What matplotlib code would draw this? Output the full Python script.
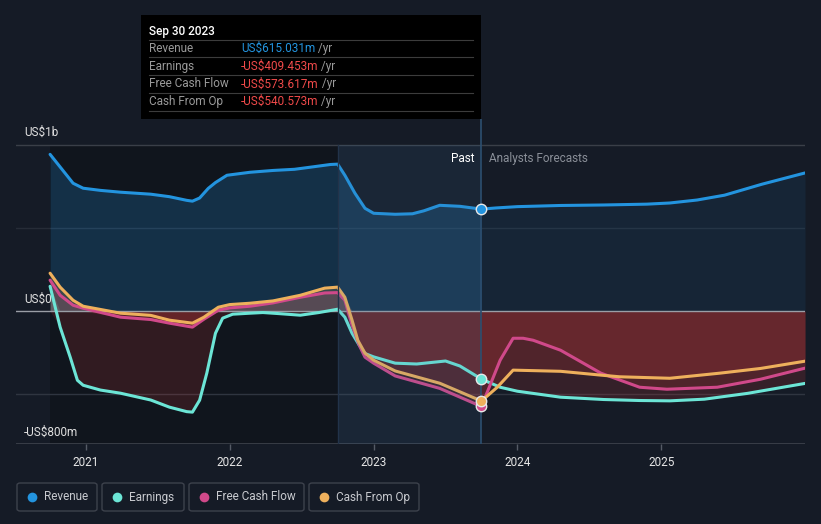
import numpy as np
import matplotlib.pyplot as plt
from matplotlib.patches import Rectangle, FancyBboxPatch
from matplotlib.lines import Line2D
from matplotlib.text import Annotation

plt.rcParams['font.family'] = ['Roboto', 'DejaVu Sans']

# values in US$ millions, x in fractional years
rev_x = [2020.75, 2020.83, 2020.91, 2020.98, 2021.10, 2021.24, 2021.45, 2021.58, 2021.70, 2021.74,
         2021.79, 2021.85, 2021.90, 2021.98, 2022.14, 2022.30, 2022.45, 2022.58, 2022.70, 2022.75,
         2022.80, 2022.87, 2022.94, 2023.00, 2023.15, 2023.27, 2023.35, 2023.46, 2023.60, 2023.75,
         2023.85, 2024.0, 2024.3, 2024.6, 2024.9, 2025.06, 2025.25, 2025.44, 2025.7, 2026.0]
rev_y = [945, 858, 771, 741, 728, 717, 705, 690, 668, 663,
         682, 740, 775, 819, 837, 848, 855, 870, 884, 886,
         819, 711, 620, 590, 584, 587, 605, 638, 632, 615,
         622, 630, 637, 640, 645, 652, 670, 699, 765, 833]

earn_x = [2020.75, 2020.82, 2020.89, 2020.94, 2020.98, 2021.10, 2021.24, 2021.45, 2021.58, 2021.70,
          2021.74, 2021.79, 2021.84, 2021.90, 2021.95, 2022.02, 2022.14, 2022.23, 2022.35, 2022.49,
          2022.62, 2022.75, 2022.80, 2022.85, 2022.90, 2022.94, 2023.00, 2023.15, 2023.30, 2023.50,
          2023.60, 2023.75, 2023.88, 2024.0, 2024.3, 2024.6, 2024.85, 2025.06, 2025.3, 2025.6, 2026.0]
earn_y = [150, -96, -277, -416, -446, -475, -494, -535, -578, -605,
          -608, -536, -373, -133, -42, -18, -12, -8, -15, -24,
          -8, 12, -36, -133, -205, -255, -275, -313, -318, -300,
          -330, -409, -458, -482, -518, -532, -538, -540, -530, -495, -435]

fcf_x = [2020.75, 2020.82, 2020.91, 2020.98, 2021.24, 2021.45, 2021.58, 2021.74, 2021.82, 2021.92,
         2022.0, 2022.14, 2022.30, 2022.49, 2022.66, 2022.75, 2022.80, 2022.85, 2022.90, 2022.94,
         2023.00, 2023.15, 2023.46, 2023.75, 2023.88, 2023.97, 2024.04, 2024.11, 2024.30, 2024.58,
         2024.85, 2025.04, 2025.39, 2025.69, 2026.0]
fcf_y = [187, 96, 36, 18, -36, -50, -72, -96, -48, 6,
         20, 30, 50, 84, 110, 112, 66, -84, -205, -277,
         -313, -390, -465, -574, -295, -163, -163, -175, -235, -373,
         -458, -470, -458, -410, -343]

cfo_x = [2020.75, 2020.82, 2020.91, 2020.98, 2021.24, 2021.45, 2021.58, 2021.74, 2021.82, 2021.92,
         2022.0, 2022.14, 2022.30, 2022.49, 2022.66, 2022.75, 2022.80, 2022.85, 2022.89, 2022.94,
         2023.00, 2023.15, 2023.46, 2023.75, 2023.86, 2023.97, 2024.3, 2024.58, 2024.71, 2025.06,
         2025.41, 2025.69, 2026.0]
cfo_y = [229, 145, 66, 30, -12, -25, -54, -72, -36, 24,
         40, 48, 62, 96, 139, 145, 84, -54, -175, -253,
         -295, -360, -434, -541, -458, -355, -362, -385, -395, -404,
         -373, -345, -301]

years = [2021, 2022, 2023, 2024, 2025]
legend_labels = ["Revenue", "Earnings", "Free Cash Flow", "Cash From Op"]
tooltip_rows = [("Revenue", "US$615.031m"), ("Earnings", "-US$409.453m"),
                ("Free Cash Flow", "-US$573.617m"), ("Cash From Op", "-US$540.573m")]

BG = "#151b26"
C_REV = "#2394df"
C_EARN = "#6ce5d6"
C_FCF = "#d0498a"
C_CFO = "#eeb05c"
NOW = 2023.75

W, H = 821, 524
fig = plt.figure(figsize=(W / 100, H / 100), dpi=100, facecolor=BG)


def fx(px):
    return px / W


def fy(py):
    return 1 - py / H


ax = fig.add_axes([fx(16), fy(444), fx(805) - fx(16), fy(119) - fy(444)])
ax.set_facecolor(BG)
ax.set_xlim(2020.513, 2026.0)
ax.set_ylim(-800, 1158)
for s in ax.spines.values():
    s.set_visible(False)
ax.set_yticks([])

# past shading
ax.fill_between([2020.75, 2022.75], -800, 1000, color="#0b0e14", alpha=0.45, zorder=0, lw=0)

# grid
for g, c in [(1000, "#3a3f48"), (500, "#262c37"), (-500, "#2f3540")]:
    ax.axhline(g, color=c, lw=1, zorder=1)
ax.axhline(-800, color="#3e434d", lw=1.2, zorder=1)

series = [(rev_x, rev_y, C_REV), (earn_x, earn_y, C_EARN), (fcf_x, fcf_y, C_FCF), (cfo_x, cfo_y, C_CFO)]

# fills
rx = np.array(rev_x)
ry = np.array(rev_y)
past = rx <= NOW + 1e-9
fut = rx >= NOW - 1e-9
ax.fill_between(rx[past], 0, ry[past], color=C_REV, alpha=0.22, lw=0, zorder=2)
ax.fill_between(rx[fut], 0, ry[fut], color=C_REV, alpha=0.09, lw=0, zorder=2)

for xs, ys, c in series[1:]:
    xa = np.array(xs)
    ya = np.array(ys)
    ax.fill_between(xa, 0, np.minimum(ya, 0), color="#d83a3a", alpha=0.17, lw=0, zorder=2)
    ax.fill_between(xa, 0, np.maximum(ya, 0), color=c, alpha=0.18, lw=0, zorder=2)

ax.axhline(0, color="#9a9ea6", lw=1, zorder=3)

for xs, ys, c in series:
    ax.plot(xs, ys, color=c, lw=2.2, zorder=4, solid_joinstyle="round", solid_capstyle="round")

# highlighted last year
ax.fill_between([2022.75, NOW], -800, 1000, color="#3f77a8", alpha=0.13, zorder=5, lw=0)
ax.plot([2022.75, 2022.75], [-800, 1000], color="#22334a", lw=1, zorder=5)
ax.plot([NOW, NOW], [-800, 1158], color="#2c4f70", lw=1.2, zorder=5)

for xs, ys, c in series:
    i = xs.index(NOW)
    ax.plot(xs[i], ys[i], "o", ms=7.5, mfc=c, mec="#e8e8e8", mew=1, zorder=6)

ax.text(2023.70, 920, "Past", color="#ffffff", fontsize=8.5, ha="right", va="center", zorder=7)
ax.text(2023.80, 920, "Analysts Forecasts", color="#8a8f98", fontsize=8.5, ha="left", va="center", zorder=7)

# x axis
ax.set_xticks(years)
ax.set_xticklabels([str(y) for y in years])
ax.tick_params(axis="x", colors="#555b66", labelcolor="#e6e6e6", labelsize=8.5, length=4, width=1, pad=5)

# y labels
fig.text(fx(24), fy(132), "US$1b", color="#e0e0e0", fontsize=8.5, va="center")
fig.text(fx(24), fy(299), "US$0", color="#e0e0e0", fontsize=8.5, va="center")
fig.text(fx(24), fy(432), "-US$800m", color="#e0e0e0", fontsize=8.5, va="center")

# tooltip
fig.patches.append(Rectangle((fx(141), fy(119)), fx(481) - fx(141), fy(15) - fy(119),
                             transform=fig.transFigure, facecolor="#000000", edgecolor="none", zorder=10))
fig.text(fx(149), fy(31), "Sep 30 2023", color="#ffffff", fontsize=8.5, fontweight="medium",
         va="center", zorder=11)
for ly in [40, 57, 75, 93, 111]:
    fig.lines.append(Line2D([fx(149), fx(473)], [fy(ly), fy(ly)], transform=fig.transFigure,
                            color="#3c3c3c", lw=0.8, zorder=11))
for k, (lab, val) in enumerate(tooltip_rows):
    yy = fy(48.5 + k * 17.7)
    fig.text(fx(149), yy, lab, color="#9a9a9a", fontsize=8.5, va="center", zorder=11)
    vc = C_REV if k == 0 else "#f04a4a"
    t = fig.text(fx(241), yy, val, color=vc, fontsize=8.5, va="center", zorder=11)
    a = Annotation(" /yr", xy=(1, 0.5), xycoords=t, color="#9a9a9a", fontsize=8.5,
                   va="center", ha="left", annotation_clip=False)
    a.set_zorder(11)
    fig.add_artist(a)

# legend
boxes = [(17, 97), (102, 184), (189, 304), (309, 419)]
colors = [C_REV, C_EARN, C_FCF, C_CFO]
for (x0, x1), lab, c in zip(boxes, legend_labels, colors):
    fig.patches.append(FancyBboxPatch((fx(x0), fy(511)), fx(x1) - fx(x0), fy(483) - fy(511),
                                      boxstyle="round,pad=0,rounding_size=0.004",
                                      transform=fig.transFigure, facecolor="none",
                                      edgecolor="#3d424c", lw=1))
    fig.add_artist(Line2D([fx(x0 + 15)], [fy(497)], transform=fig.transFigure, marker="o",
                          ms=7, mfc=c, mec="none", ls="none"))
    fig.text(fx(x0 + 27), fy(497), lab, color="#c8cacf", fontsize=8.5, va="center")

fig.savefig("out.png", dpi=100, facecolor=BG)
